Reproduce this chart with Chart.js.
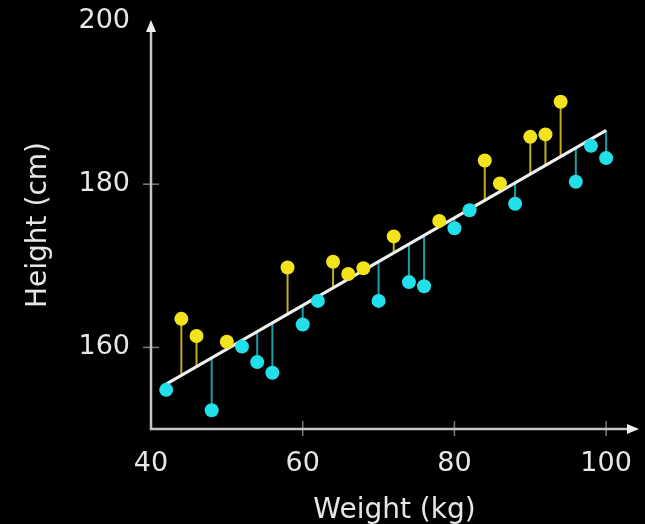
<!DOCTYPE html>
<html>
<head>
<meta charset="utf-8">
<title>Height vs Weight</title>
<script src="https://cdn.jsdelivr.net/npm/chart.js@4.4.1/dist/chart.umd.min.js"></script>
<style>
  html, body { margin: 0; padding: 0; background: #000; }
  canvas { display: block; }
</style>
</head>
<body>
<canvas id="heightChart" width="645" height="524"></canvas>
<script>
// Sample: weight (kg) and height (cm)
const weights = [42, 44, 46, 48, 50, 52, 54, 56, 58, 60, 62, 64, 66, 68, 70,
                 72, 74, 76, 78, 80, 82, 84, 86, 88, 90, 92, 94, 96, 98, 100]
const heights = [154.8, 163.5, 161.4, 152.3, 160.7, 160.1, 158.2, 156.9, 169.8, 162.8,
                 165.7, 170.5, 169.0, 169.7, 165.7, 173.6, 168.0, 167.5, 175.5, 174.6,
                 176.8, 182.9, 180.1, 177.6, 185.8, 186.1, 190.1, 180.3, 184.7, 183.2]

// Fitted line, given by its two end points
const fitWeights = [42, 100]
const fitHeights = [155.5, 186.6]

// Axis ticks
const xTicks = [40, 60, 80, 100]
const yTicks = [160, 180, 200]

const textColor = "#e6e6e6"
const axisColor = "#c4c4c4"
const above = { dot: "#f3e31c", stem: "#bfae22" }
const below = { dot: "#22e0ea", stem: "#1a9ea6" }

function fitAt(w) {
  const t = (w - fitWeights[0]) / (fitWeights[1] - fitWeights[0])
  return fitHeights[0] + t * (fitHeights[1] - fitHeights[0])
}

const points = weights.map((w, i) => ({ x: w, y: heights[i] }))
const dotColors = weights.map((w, i) => (heights[i] >= fitAt(w) ? above.dot : below.dot))
const fitLine = fitWeights.map((w, i) => ({ x: w, y: fitHeights[i] }))

// Axis lines with arrows, crossing tick marks and residual stems
const axesAndStems = {
  id: "axesAndStems",
  beforeDatasetsDraw(chart) {
    const { ctx, chartArea, scales: { x, y } } = chart
    const left = chartArea.left
    const bottom = chartArea.bottom
    ctx.save()

    // residuals
    ctx.lineWidth = 2
    weights.forEach((w, i) => {
      const px = x.getPixelForValue(w)
      const py = y.getPixelForValue(heights[i])
      const pf = y.getPixelForValue(fitAt(w))
      ctx.strokeStyle = heights[i] >= fitAt(w) ? above.stem : below.stem
      ctx.beginPath()
      ctx.moveTo(px, py)
      ctx.lineTo(px, pf)
      ctx.stroke()
    })

    // tick marks
    ctx.strokeStyle = "#7a7a7a"
    ctx.lineWidth = 1.5
    xTicks.slice(1).forEach((v) => {
      const px = x.getPixelForValue(v)
      ctx.beginPath()
      ctx.moveTo(px, bottom - 8)
      ctx.lineTo(px, bottom + 7)
      ctx.stroke()
    })
    yTicks.slice(0, -1).forEach((v) => {
      const py = y.getPixelForValue(v)
      ctx.beginPath()
      ctx.moveTo(left - 8, py)
      ctx.lineTo(left + 8, py)
      ctx.stroke()
    })

    // axes
    ctx.strokeStyle = axisColor
    ctx.lineWidth = 2.5
    ctx.beginPath()
    ctx.moveTo(left, chartArea.top + 8)
    ctx.lineTo(left, bottom)
    ctx.lineTo(chartArea.right - 8, bottom)
    ctx.stroke()

    ctx.fillStyle = "#eeeeee"
    ctx.beginPath()
    ctx.moveTo(left, chartArea.top - 1)
    ctx.lineTo(left - 5, chartArea.top + 11)
    ctx.lineTo(left + 5, chartArea.top + 11)
    ctx.closePath()
    ctx.fill()
    ctx.beginPath()
    ctx.moveTo(chartArea.right + 1, bottom)
    ctx.lineTo(chartArea.right - 11, bottom - 5)
    ctx.lineTo(chartArea.right - 11, bottom + 5)
    ctx.closePath()
    ctx.fill()

    ctx.restore()
  },
}

const ctx = document.getElementById("heightChart").getContext("2d")

const heightChart = new Chart(ctx, {
  data: {
    datasets: [
      {
        type: "scatter",
        data: points,
        pointRadius: 7,
        pointHoverRadius: 7,
        pointBackgroundColor: dotColors,
        pointBorderWidth: 0,
        order: 0,
      },
      {
        type: "line",
        data: fitLine,
        borderColor: "#efefef",
        borderWidth: 3,
        pointRadius: 0,
        fill: false,
        order: 1,
      },
    ],
  },
  options: {
    responsive: false,
    animation: false,
    devicePixelRatio: 1,
    clip: false,
    layout: { padding: { top: 21, right: 5, bottom: 0, left: 0 } },
    plugins: {
      legend: { display: false },
      tooltip: { enabled: false },
    },
    scales: {
      x: {
        type: "linear",
        min: 40,
        max: 104.2,
        grid: { display: false, drawTicks: false },
        border: { display: false },
        afterBuildTicks: (scale) => {
          scale.ticks = xTicks.map((v) => ({ value: v }))
        },
        afterFit: (scale) => {
          scale.height = 95
          // keep end labels from shrinking the plot
          scale.paddingLeft = 0
          scale.paddingRight = 0
        },
        ticks: {
          color: textColor,
          font: { family: "DejaVu Sans", size: 27 },
          padding: 19,
          maxRotation: 0,
        },
        title: {
          display: true,
          text: "Weight (kg)",
          color: textColor,
          font: { family: "DejaVu Sans", size: 28, lineHeight: 0.95 },
          padding: { top: 0, bottom: 0 },
        },
      },
      y: {
        type: "linear",
        min: 150,
        max: 200,
        grid: { display: false, drawTicks: false },
        border: { display: false },
        afterBuildTicks: (scale) => {
          scale.ticks = yTicks.map((v) => ({ value: v }))
        },
        afterFit: (scale) => {
          scale.width = 151
          scale.paddingTop = 0
          scale.paddingBottom = 0
        },
        ticks: {
          color: textColor,
          font: { family: "DejaVu Sans", size: 27 },
          padding: 21,
        },
        title: {
          display: true,
          text: "Height (cm)",
          color: textColor,
          font: { family: "DejaVu Sans", size: 28, lineHeight: 1 },
          padding: { top: 25, bottom: 0 },
        },
      },
    },
  },
  plugins: [axesAndStems],
})
</script>
</body>
</html>
